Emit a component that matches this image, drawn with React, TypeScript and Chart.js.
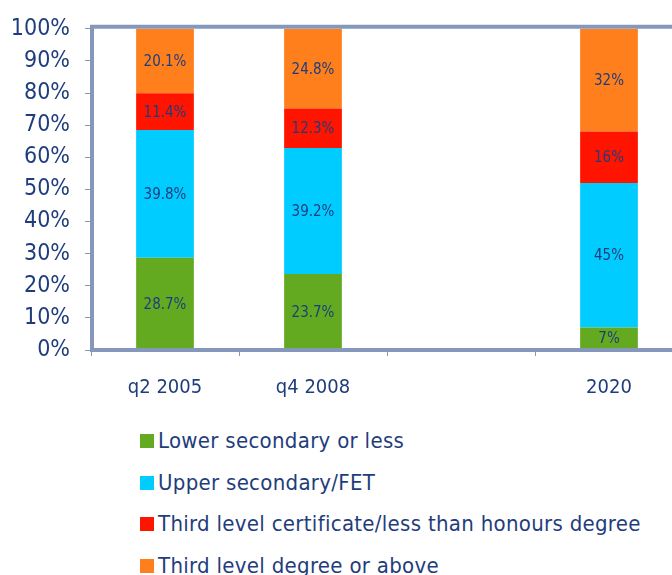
import React, { useEffect, useRef } from "react";
import { Chart, registerables } from "chart.js";

Chart.register(...registerables);

const categories = ["q2 2005", "q4 2008", "", "2020"];
const lowerSecondary = [28.7, 23.7, null, 7];
const upperSecondary = [39.8, 39.2, null, 45];
const thirdCertificate = [11.4, 12.3, null, 16];
const thirdDegree = [20.1, 24.8, null, 32];
const seriesNames = [
  "Lower secondary or less",
  "Upper secondary/FET",
  "Third level certificate/less than honours degree",
  "Third level degree or above",
];
const seriesColors = ["#64aa20", "#00ccff", "#ff1400", "#ff7f1c"];
const yMin = 0;
const yMax = 100;
const yStep = 10;

const FONT = '"DejaVu Sans Condensed", "DejaVu Sans", sans-serif';
const TEXT = "#1f3d7c";
const FRAME = "#8598bb";

const valueLabels = {
  id: "valueLabels",
  afterDatasetsDraw(chart: any) {
    const ctx = chart.ctx;
    ctx.save();
    ctx.font = `15px ${FONT}`;
    ctx.fillStyle = TEXT;
    ctx.textAlign = "center";
    ctx.textBaseline = "middle";
    chart.data.datasets.forEach((ds: any, i: number) => {
      const meta = chart.getDatasetMeta(i);
      meta.data.forEach((bar: any, j: number) => {
        const v = ds.data[j];
        if (v == null) return;
        const p = bar.getProps(["x", "y", "base"], true);
        ctx.fillText(`${v}%`, p.x, (p.y + p.base) / 2 + 1);
      });
    });
    ctx.restore();
  },
};

const frame = {
  id: "frame",
  afterDatasetsDraw(chart: any) {
    const { ctx, chartArea } = chart;
    const { left, top, bottom } = chartArea;
    ctx.save();
    ctx.strokeStyle = FRAME;
    ctx.lineWidth = 4;
    ctx.beginPath();
    ctx.moveTo(left + 1, top - 2);
    ctx.lineTo(chart.width, top - 2);
    ctx.moveTo(left + 1, top - 4);
    ctx.lineTo(left + 1, bottom + 2);
    ctx.moveTo(left - 1, bottom);
    ctx.lineTo(chart.width, bottom);
    ctx.stroke();
    ctx.restore();
  },
};

export default function App() {
  const ref = useRef<HTMLCanvasElement | null>(null);

  useEffect(() => {
    if (!ref.current) return;
    const seriesData = [lowerSecondary, upperSecondary, thirdCertificate, thirdDegree];
    const chart = new Chart(ref.current, {
      type: "bar",
      data: {
        labels: categories,
        datasets: seriesData.map((d, i) => ({
          label: seriesNames[i],
          data: d as any,
          backgroundColor: seriesColors[i],
          borderWidth: 0,
          barPercentage: 0.39,
          categoryPercentage: 1,
        })),
      },
      options: {
        responsive: false,
        animation: false,
        layout: { padding: { top: 27, right: 7, bottom: 0, left: 0 } },
        plugins: {
          legend: { display: false },
          tooltip: { enabled: false },
        },
        scales: {
          x: {
            stacked: true,
            border: { display: false },
            grid: {
              drawOnChartArea: false,
              drawTicks: true,
              tickLength: 6,
              color: FRAME,
              lineWidth: 1,
            },
            ticks: {
              color: TEXT,
              font: { family: FONT, size: 20 },
              padding: 20,
              maxRotation: 0,
              autoSkip: false,
            },
            afterFit: (scale: any) => {
              scale.height = 60;
            },
          },
          y: {
            stacked: true,
            min: yMin,
            max: yMax,
            border: { display: false },
            grid: {
              drawOnChartArea: false,
              drawTicks: true,
              tickLength: 6,
              color: FRAME,
              lineWidth: 1,
            },
            ticks: {
              stepSize: yStep,
              color: TEXT,
              font: { family: FONT, size: 23 },
              padding: 15,
              callback: (v: any) => `${v}%`,
            },
            afterFit: (scale: any) => {
              scale.width = 91;
            },
          },
        },
      },
      plugins: [frame, valueLabels],
    });
    return () => chart.destroy();
  }, []);

  return (
    <div
      style={{
        position: "fixed",
        left: 0,
        top: 0,
        width: 672,
        height: 575,
        overflow: "hidden",
        background: "#fff",
      }}
    >
      <canvas
        ref={ref}
        width={690}
        height={410}
        style={{ position: "absolute", left: 0, top: 0, width: 690, height: 410 }}
      />
      <div
        style={{
          position: "absolute",
          left: 140,
          top: 420,
          fontFamily: FONT,
          fontSize: 22,
          letterSpacing: 0.3,
          color: TEXT,
          whiteSpace: "nowrap",
        }}
      >
        {seriesNames.map((name, i) => (
          <div
            key={name}
            style={{ height: 41.7, lineHeight: "41.7px", display: "flex", alignItems: "center" }}
          >
            <span
              style={{
                display: "inline-block",
                width: 14,
                height: 14,
                background: seriesColors[i],
                marginRight: 4,
              }}
            />
            <span>{name}</span>
          </div>
        ))}
      </div>
    </div>
  );
}
